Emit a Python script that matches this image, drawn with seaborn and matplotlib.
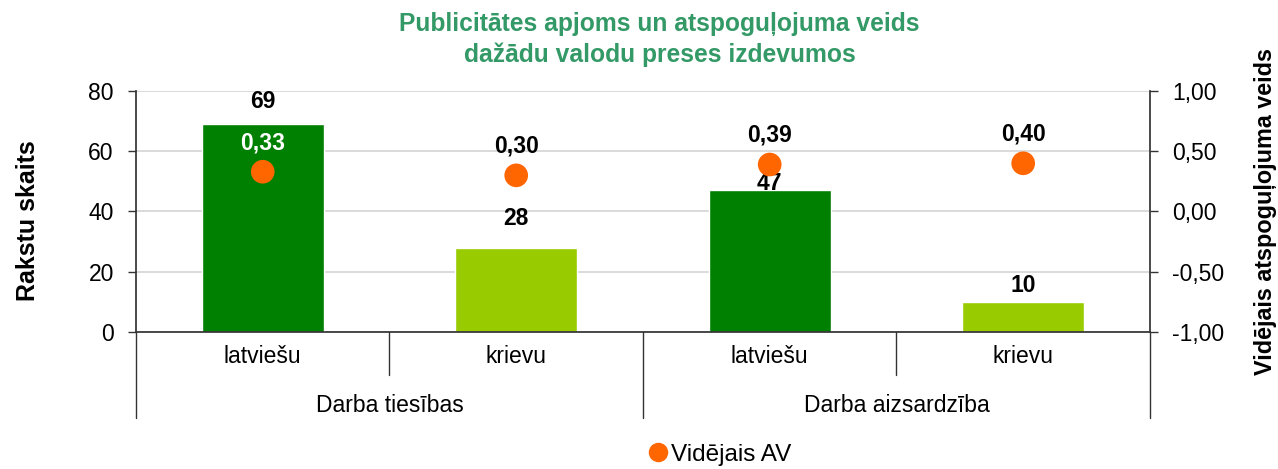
import numpy as np
import pandas as pd
import matplotlib
matplotlib.use("Agg")
import matplotlib.pyplot as plt
import seaborn as sns
from matplotlib.lines import Line2D
from matplotlib.ticker import FuncFormatter

groups = ["Darba tiesības", "Darba tiesības", "Darba aizsardzība", "Darba aizsardzība"]
languages = ["latviešu", "krievu", "latviešu", "krievu"]
counts = [69, 28, 47, 10]
avg_av = [0.33, 0.30, 0.39, 0.40]

df = pd.DataFrame({"grupa": groups, "valoda": languages, "skaits": counts, "av": avg_av})
df["pos"] = np.arange(len(df))

bar_colors = {"latviešu": "#008000", "krievu": "#99CC00"}
title_color = "#339966"
dot_color = "#FF6600"

sns.set_theme(style="white")
plt.rcParams["font.family"] = ["Liberation Sans", "DejaVu Sans"]
plt.rcParams.update({"text.color": "black", "axes.labelcolor": "black",
                     "xtick.color": "black", "ytick.color": "black"})
fs = 16.5

fig = plt.figure(figsize=(12.78, 4.69), dpi=100)
ax = fig.add_axes([0.1064, 0.2921, 0.7934, 0.5139])

sns.barplot(data=df, x="pos", y="skaits", hue="valoda", palette=bar_colors,
            width=0.48, dodge=False, legend=False, ax=ax, saturation=1)
ax.set_xlim(-0.5, 3.5)
ax.set_ylim(0, 80)
ax.set_yticks([0, 20, 40, 60, 80])
ax.yaxis.grid(True, color="#d4d4d4", lw=1.2)
ax.set_axisbelow(True)
ax.set_xticks([])
ax.set_xlabel("")
ax.set_ylabel("")
ax.tick_params(axis="y", left=True, length=6, width=1, color="#333333",
               labelcolor="black", labelsize=fs, pad=10)
for s in ["top", "right"]:
    ax.spines[s].set_visible(False)
ax.spines["left"].set_color("#333333")
ax.spines["bottom"].set_color("#333333")

# bar value labels (offsets in points, as placed in the original)
bar_offsets = [16.5, 21, 5, 11.5]
for i, (c, off) in enumerate(zip(counts, bar_offsets)):
    ax.annotate(str(c), (i, c), xytext=(0, off), textcoords="offset points",
                ha="center", va="center", fontsize=fs, fontweight="bold", color="black")

ax2 = ax.twinx()
sns.scatterplot(data=df, x="pos", y="av", color=dot_color, s=290, edgecolor="none",
                ax=ax2, legend=False, zorder=5)
ax2.set_ylim(-1, 1)
ax2.set_yticks([-1, -0.5, 0, 0.5, 1])
ax2.yaxis.set_major_formatter(FuncFormatter(lambda v, p: f"{v:.2f}".replace(".", ",")))
ax2.set_ylabel("")
ax2.set_xlabel("")
ax2.tick_params(axis="y", right=True, length=6, width=1, color="#333333",
                labelcolor="black", labelsize=fs, pad=10)
for s in ["top", "left", "bottom"]:
    ax2.spines[s].set_visible(False)
ax2.spines["right"].set_color("#333333")

for i, v in enumerate(avg_av):
    col = "white" if counts[i] * (2 / 80) - 1 > v + 0.2 else "black"
    ax2.annotate(f"{v:.2f}".replace(".", ","), (i, v), xytext=(0, 21), textcoords="offset points",
                 ha="center", va="center", fontsize=fs, fontweight="bold", color=col)

# two-level category axis
trans = ax.get_xaxis_transform()
for i, lang in enumerate(languages):
    ax.text(i, -0.10, lang, transform=trans, ha="center", va="center", fontsize=fs)
for g in ["Darba tiesības", "Darba aizsardzība"]:
    xs = df.loc[df["grupa"] == g, "pos"]
    ax.text(xs.mean(), -0.303, g, transform=trans, ha="center", va="center", fontsize=fs)

line_kw = dict(transform=trans, color="#333333", lw=1, clip_on=False)
ax.plot([-0.5, -0.5], [0, -0.357], **line_kw)
ax.plot([3.5, 3.5], [0, -0.357], **line_kw)
ax.plot([1.5, 1.5], [0, -0.357], **line_kw)
ax.plot([0.5, 0.5], [0, -0.178], **line_kw)
ax.plot([2.5, 2.5], [0, -0.178], **line_kw)

fig.text(0.516, 0.974, "Publicitātes apjoms un atspoguļojuma veids\ndažādu valodu preses izdevumos",
         ha="center", va="top", fontsize=17.7, fontweight="bold", color=title_color, linespacing=1.3)
fig.text(0.022, 0.529, "Rakstu skaits", rotation=90, ha="center", va="center",
         fontsize=18, fontweight="bold")
fig.text(0.99, 0.55, "Vidējais atspoguļojuma veids", rotation=90, ha="center", va="center",
         fontsize=16.8, fontweight="bold")

handle = Line2D([], [], marker="o", color=dot_color, linestyle="none", markersize=13)
fig.legend([handle], ["Vidējais AV"], loc="center", bbox_to_anchor=(0.562, 0.03),
           frameon=False, fontsize=17.5, handletextpad=0.05, handlelength=1)

fig.savefig("out.png", dpi=100)
